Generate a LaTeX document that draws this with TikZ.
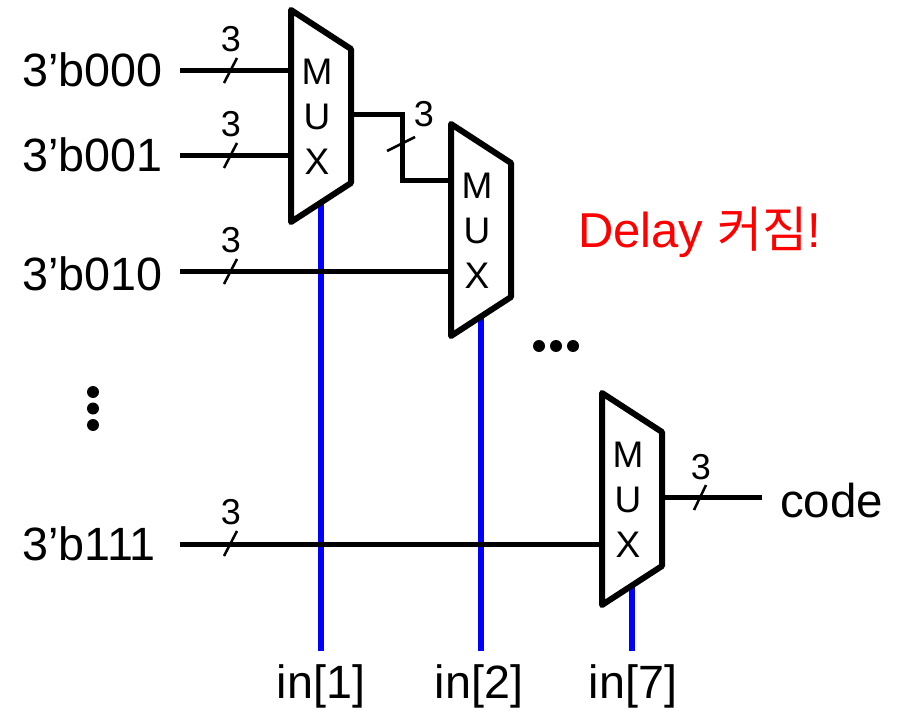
\documentclass[tikz,border=0pt]{standalone}
\usepackage{fontspec}
\setmainfont{Liberation Sans}
\newfontfamily\krfont{Noto Sans CJK KR}
\tikzstyle{wire} = [draw=black, line width=5pt, line join=miter]
\tikzstyle{selwire} = [draw=blue, line width=5.5pt]
\tikzstyle{muxbox} = [draw=black, fill=white, line width=6pt, line join=round]
\tikzstyle{tick} = [draw=black, line width=2.5pt]
\tikzstyle{dotmark} = [circle, fill=black, inner sep=0, minimum size=12pt]
\tikzstyle{inlabel} = [font=\fontsize{46.7pt}{50pt}\selectfont, inner sep=0, anchor=west,
    text width=158pt, align=left]
\tikzstyle{sellabel} = [font=\fontsize{46.7pt}{50pt}\selectfont, inner sep=0, minimum height=70pt]
\tikzstyle{widthlabel} = [font=\fontsize{36pt}{40pt}\selectfont, inner sep=0]
\tikzstyle{muxlabel} = [font=\fontsize{37pt}{45pt}\selectfont, inner sep=0, align=center]

\begin{document}
\begin{tikzpicture}[x=1pt,y=-1pt]
\useasboundingbox (0,0) rectangle (897,711);
% labels at the bottom and on the left
\node[sellabel] (sel1) at (321,686) {in[1]};
\node[sellabel] (sel2) at (479,686) {in[2]};
\node[sellabel] (sel7) at (633,686) {in[7]};
\node[inlabel] (in000) at (22,70) {3’b000};
\node[inlabel] (in001) at (22,155) {3’b001};
\node[inlabel] (in010) at (22,274) {3’b010};
\node[inlabel] (in111) at (22,544) {3’b111};
\node[font=\fontsize{47.5pt}{50pt}\selectfont, inner sep=0, anchor=west] (code) at (780,501) {code};
\node[font=\fontsize{49pt}{50pt}\selectfont, inner sep=0, text=red, anchor=west] (delay) at (578,232)
    {Delay {\krfont 커짐}!};
% select lines go under the mux
\coordinate (mux1s) at (321,200);
\coordinate (mux2s) at (481,315);
\coordinate (mux7s) at (632,585);
\draw[selwire] (mux1s) -- (mux1s |- sel1.north);
\draw[selwire] (mux2s) -- (mux2s |- sel2.north);
\draw[selwire] (mux7s) -- (mux7s |- sel7.north);
% data lines
\coordinate (mux1a) at (291,71);
\coordinate (mux1b) at (291,156);
\coordinate (mux2b) at (451,272);
\coordinate (mux7b) at (602,544);
\coordinate (out1) at (351,115);
\coordinate (bend) at (402,115);
\coordinate (mux2a) at (451,181);
\coordinate (out7) at (662,497);
\coordinate (outend) at (762,497);
\draw[wire] (in000.east |- mux1a) -- (mux1a);
\draw[wire] (in001.east |- mux1b) -- (mux1b);
\draw[wire] (in010.east |- mux2b) -- (mux2b);
\draw[wire] (in111.east |- mux7b) -- (mux7b);
\draw[wire] (out1) -- (bend) |- (mux2a);
\draw[wire] (out7) -- (outend);
% the three mux
\foreach \x/\y/\name in {291/10/mux1, 451/124/mux2, 602/393/mux7} {
    \draw[muxbox] (\x,\y) -- ++(60,39) -- ++(0,134) -- ++(-60,39) -- cycle;
    \node[muxlabel] (\name) at (\x+26,\y+107) {M\\U\\X};
}
% bus width marks
\foreach \x/\y/\name in {231/71/a, 231/156/b, 231/272/c, 231/544/d} {
    \draw[tick] (\x-7,\y+12) -- (\x+6,\y-13);
    \node[widthlabel] (w\name) at (\x,\y-32) {3};
}
\draw[tick] (694,510) -- (706,485);
\node[widthlabel] (we) at (701,467) {3};
\draw[tick] (387,151) -- (415,137);
\node[widthlabel] (wf) at (424,114) {3};
% dots for the left out mux
\foreach \y/\name in {392/p, 408.5/q, 425/r}
    \node[dotmark] (\name) at (93,\y) {};
\foreach \x/\name in {539/s, 556/t, 573/u}
    \node[dotmark] (\name) at (\x,346) {};
\end{tikzpicture}
\end{document}
